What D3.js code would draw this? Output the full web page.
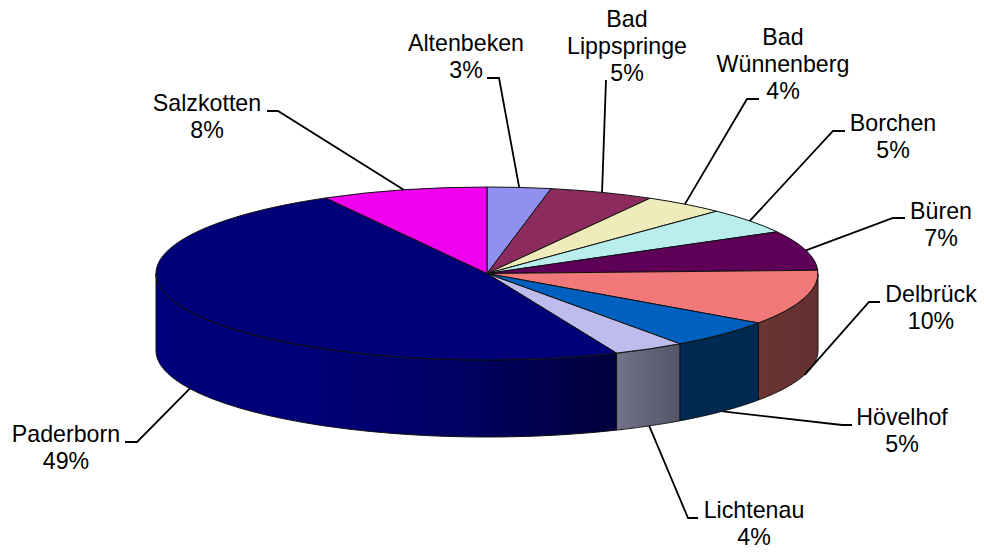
<!DOCTYPE html>
<head>
   <meta charset="utf-8">
   <script src="https://d3js.org/d3.v7.min.js"></script>
   <style>
   body{
      margin: 0;
      background: #ffffff;
   }
   svg{
      display: block;
   }
   text{
      font-size: 23.2px;
      font-family: "Liberation Sans", Arial, sans-serif;
      fill: #000000;
      text-anchor: middle;
   }
   .top path{
      stroke: #111111;
      stroke-width: 1px;
      vector-effect: non-scaling-stroke;
   }
   .wall path{
      stroke: #111111;
      stroke-width: 1px;
   }
   .leader{
      fill: none;
      stroke: #000000;
      stroke-width: 1.8px;
   }
   </style>
   <title>Pie</title>
</head>

<body>
   <script>
const width  = 984;
const height = 553;

// chart data
const categories = ['Altenbeken','Bad Lippspringe','Bad Wünnenberg','Borchen','Büren','Delbrück','Hövelhof','Lichtenau','Paderborn','Salzkotten'];
const shares     = [3.1, 5.1, 4.0, 4.8, 7.4, 10.3, 5.4, 3.5, 48.3, 8.1];
const percents   = [3, 5, 4, 5, 7, 10, 5, 4, 49, 8];                     // as printed on the labels
const colours    = ['#9090F0','#8C2C5E','#EFECBC','#BAEEEC','#5E0058','#F07878','#0060C0','#BEBCEC','#000078','#F000EE'];

// side wall shading, left to right
const wallColours = {
   'Delbrück' : ['#6A3432','#643030'],
   'Hövelhof' : ['#002A52','#002850'],
   'Lichtenau': ['#72728A','#54546A'],
   'Paderborn': ['#00007C','#000078','#000062','#00003C']
};

// label text lines, centre x, baselines and the leader's bend
const labelLines = [['Altenbeken'],['Bad','Lippspringe'],['Bad','Wünnenberg'],['Borchen'],['Büren'],['Delbrück'],['Hövelhof'],['Lichtenau'],['Paderborn'],['Salzkotten']];
const labelX     = [466, 627, 783, 893, 941, 931, 902, 754, 66, 207];
const labelY     = [51, 27, 45, 131, 219, 302, 425, 518, 442, 111];
const leaderEnd  = [[487,78],[606,80],[759,99],[845,131],[905,218],[880,302],[852,425],[698,518],[125,442],[267,111]];
const leaderBend = [[499,78],null,[747,99],[833,131],[893,218],[869,302],[842,425],[688,518],[137,442],[278,111]];

const cx = 487, cy = 273.5, rx = 331, ry = 86.5, depth = 77, lineHeight = 27;

const svg = d3.select('body').append('svg')
   .attr('width', width)
   .attr('height', height);

const slices = d3.pie().sort(null).value(d => d)(shares);

const px = a => cx + rx*Math.sin(a);
const py = a => cy - ry*Math.cos(a);

const defs = svg.append('defs');

// side walls, only the front half of the disc shows
const wall = svg.append('g').attr('class','wall');
slices.forEach((s,i) => {
   const a0 = Math.max(s.startAngle, Math.PI/2);
   const a1 = Math.min(s.endAngle, Math.PI*3/2);
   if(a1 <= a0) return;
   const name = categories[i];
   const n = 60;
   const angles = d3.range(n+1).map(k => a0 + (a1-a0)*k/n);
   const upper = angles.map(a => [px(a), py(a)]);
   const lower = angles.slice().reverse().map(a => [px(a), py(a)+depth]);

   const stops = wallColours[name];
   const grad = defs.append('linearGradient')
      .attr('id', 'wall'+i)
      .attr('gradientUnits','userSpaceOnUse')
      .attr('x1', px(a1)).attr('x2', px(a0))
      .attr('y1', 0).attr('y2', 0);
   stops.forEach((c,k) => {
      grad.append('stop')
         .attr('offset', k/(stops.length-1))
         .attr('stop-color', c);
   });

   wall.append('path')
      .attr('d', d3.line()(upper.concat(lower)) + 'Z')
      .attr('fill', `url(#wall${i})`);
});

// top of the disc: a normal arc squashed into an ellipse
const arc = d3.arc().innerRadius(0).outerRadius(rx);
svg.append('g')
   .attr('class','top')
   .attr('transform', `translate(${cx},${cy}) scale(1,${ry/rx})`)
   .selectAll('path')
   .data(slices)
   .enter()
   .append('path')
   .attr('d', arc)
   .attr('fill', (d,i) => colours[i]);

// leaders start at the slice middle, on the bottom rim for the front half
slices.forEach((s,i) => {
   const mid = (s.startAngle + s.endAngle)/2;
   const front = mid > Math.PI/2 && mid < Math.PI*3/2;
   const start = [px(mid), py(mid) + (front ? depth : 0)];
   const pts = [leaderEnd[i]];
   if(leaderBend[i]) pts.push(leaderBend[i]);
   pts.push(start);
   svg.append('path')
      .attr('class','leader')
      .attr('d', d3.line()(pts));
});

// labels
slices.forEach((s,i) => {
   const lines = labelLines[i].concat([percents[i] + '%']);
   const t = svg.append('text')
      .attr('x', labelX[i])
      .attr('y', labelY[i]);
   lines.forEach((l,k) => {
      t.append('tspan')
         .attr('x', labelX[i])
         .attr('dy', k == 0 ? 0 : lineHeight)
         .text(l);
   });
});
   </script>
</body>
